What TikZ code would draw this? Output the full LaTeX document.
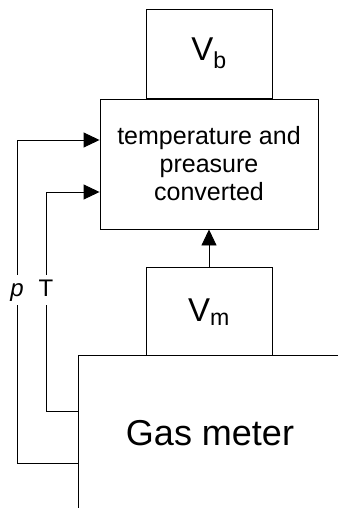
\documentclass[tikz,border=0pt]{standalone}
\usepackage{fontspec}
\setmainfont{Liberation Sans}
\usetikzlibrary{positioning,arrows.meta}

\begin{document}
\begin{tikzpicture}[x=1pt, y=-1pt, line width=0.9pt, node distance={38pt},
    box/.style = {draw, rectangle, inner sep=0pt},
    vol/.style = {box, minimum width=126pt, minimum height=89pt, font=\fontsize{33}{33}\selectfont},
    sig/.style = {-{Triangle[length=16pt, width=15pt]}},
    lbl/.style = {inner sep=0pt, minimum height=30pt, text height=17pt, text depth=5pt, font=\fontsize{24}{24}\selectfont}]
                    \useasboundingbox (0,0) rectangle (338,508);
                    \node[box, minimum width=218pt, minimum height=130pt, align=center, font=\fontsize{25}{28}\selectfont] (conv) at (209,164) {temperature and\\preasure\\converted};
                    \node[vol] (vb) [above=0pt of conv] {V\textsubscript{b}};
                    \node[vol, minimum height=88pt] (vm) [below=of conv] {V\textsubscript{m}};
                    \node[font=\fontsize{36}{36}\selectfont] (gm) at (210,433) {Gas meter};
                    \draw (338,355) -- (78,355) -- (78,508);
                    \coordinate (gT) at (78,411);
                    \coordinate (gp) at (78,463);
                    \node[lbl] (p) at (17,290) {\textit{p}};
                    \node[lbl] (T) at (46,290) {T};
                    \draw (gp) -| (p.south);
                    \draw[sig] (p.north) |- ([yshift=24pt]conv.west);
                    \draw (gT) -| (T.south);
                    \draw[sig] (T.north) |- ([yshift=-28pt]conv.west);
                    \draw[sig] (vm) -- (conv);
                \end{tikzpicture}
\end{document}
